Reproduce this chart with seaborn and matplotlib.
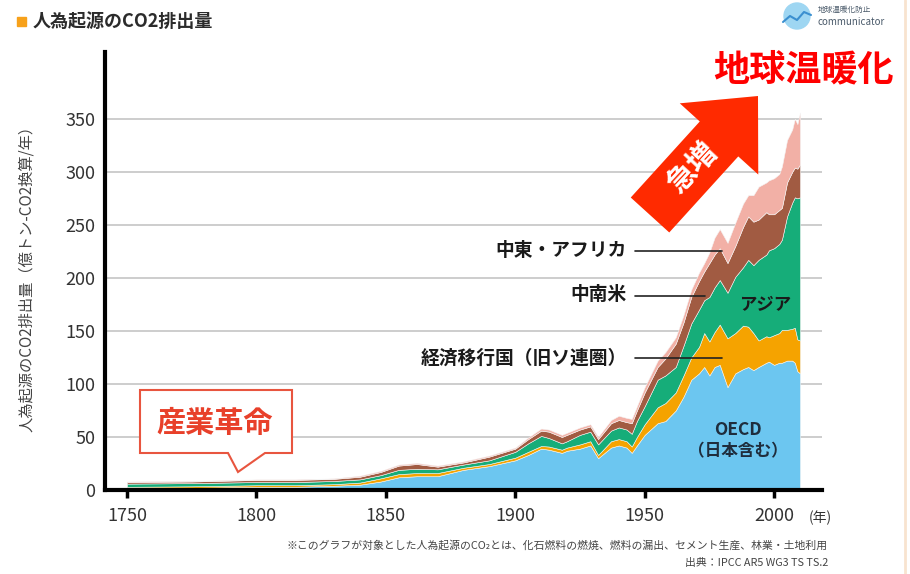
import seaborn as sns
import matplotlib.pyplot as plt
from matplotlib.patches import Polygon, Rectangle, Circle, FancyArrow

# data (億トン-CO2/年), one value per region and year
years = [1750, 1775, 1800, 1815, 1830, 1840, 1848, 1855, 1862, 1870, 1880, 1890,
         1900, 1905, 1910, 1913, 1918, 1920, 1925, 1929, 1932, 1937, 1940, 1943,
         1945, 1947, 1950, 1955, 1958, 1962, 1965, 1968, 1971, 1973, 1975, 1977,
         1979, 1982, 1985, 1988, 1990, 1992, 1994, 1997, 1998, 2000, 2002, 2003,
         2005, 2007, 2008, 2009, 2010]
oecd = [1.5, 2, 3, 3, 4, 5, 8, 12, 13, 13, 19, 22.5,
        28, 33, 39, 38, 35, 37, 39, 42, 30, 40, 42, 40,
        35, 42, 52, 63, 65, 75, 88, 104, 110, 116, 108, 116,
        118, 97, 110, 114, 116, 113, 116, 120, 121, 118, 120, 120,
        122, 122, 120, 112, 110]
transition = [1.5, 1.5, 1.5, 1.5, 1.5, 2, 3, 3, 3, 3, 2, 2,
              2.5, 3, 2.5, 3, 3, 3, 4, 4, 3, 6, 6, 6,
              6, 8, 10, 15, 17, 17, 20, 21, 25, 32, 32, 33,
              38, 46, 38, 41, 38, 35, 25, 25, 23, 28, 28, 31,
              29, 30, 33, 30, 31]
asia = [3, 3, 3, 3, 3, 3, 3, 4, 4, 3.5, 3, 3.5,
        5.5, 8, 9.5, 8, 6, 6, 9, 9, 10, 10, 11, 11,
        12, 15, 17, 26, 26, 24, 28, 32, 35, 31, 42, 42,
        42, 43, 53, 55, 63, 64, 76, 77, 82, 82, 84, 85,
        107, 119, 123, 133, 135]
latam = [1.5, 1.5, 2, 2, 2, 2.5, 3, 4, 4.5, 2.5, 2, 3.5,
         3, 4, 5, 6, 6, 6, 5, 5, 5, 7, 7, 7,
         10, 10, 13, 12, 16, 22, 22, 25, 27, 27, 32, 31,
         30, 28, 29, 38, 41, 41, 38, 40, 34, 32, 32, 30,
         32, 29, 28, 28, 31]
mea = [0.5, 0.5, 0.5, 0.5, 0.5, 1, 1, 1, 1, 1, 1, 1,
       1, 1.5, 2, 2, 2, 2, 2, 2, 2, 3, 4, 4,
       4, 4, 5, 6, 6, 6, 7, 7, 8, 8, 10, 16,
       18, 19, 22, 22, 20, 25, 31, 28, 32, 34, 34, 39,
       40, 40, 46, 42, 49]
colors = ['#6CC6F0', '#F5A300', '#16AD79', '#A15B42', '#F2B0A6']
yticks = [0, 50, 100, 150, 200, 250, 300, 350]
xticks = [1750, 1800, 1850, 1900, 1950, 2000]

sns.set_theme(style='white')
plt.rcParams['font.family'] = ['Noto Sans CJK JP', 'DejaVu Sans']

W, H = 910, 574
fig = plt.figure(figsize=(W / 100, H / 100), dpi=100)
ax = fig.add_axes([105 / W, (H - 490) / H, (822 - 105) / W, (490 - 52) / H])

ax.stackplot(years, oecd, transition, asia, latam, mea, colors=colors,
             edgecolor='#f4f4f4', linewidth=0.4, zorder=2)
ax.set_xlim(1741.5, 2018.5)
ax.set_ylim(0, 413)
ax.set_yticks(yticks)
ax.set_xticks(xticks)
ax.yaxis.grid(True, color='#c9c9c9', lw=1.3)
ax.set_axisbelow(True)
sns.despine(ax=ax)
for s in ['left', 'bottom']:
    ax.spines[s].set_color('black')
    ax.spines[s].set_linewidth(3)
ax.tick_params(axis='y', length=0, pad=7, labelsize=13, labelcolor='#333333')
ax.tick_params(axis='x', length=6, width=2.5, color='black', direction='out',
               pad=6, labelsize=13, labelcolor='#333333', bottom=True)

# overlay in pixel coordinates for the decorations
ov = fig.add_axes([0, 0, 1, 1])
ov.set_xlim(0, W)
ov.set_ylim(H, 0)
ov.axis('off')
ov.patch.set_visible(False)

ov.add_patch(Rectangle((17, 17), 9, 9, color='#F7A11A'))
ov.text(33, 21.5, '人為起源のCO2排出量', fontsize=13, fontweight='bold',
        color='#2b2b2b', va='center', ha='left')

ov.text(27, 275, '人為起源のCO2排出量（億トン-CO2換算/年）', rotation=90,
        fontsize=11, color='#444444', ha='center', va='center')
ov.text(820, 518, '(年)', fontsize=10, color='#333333', ha='center', va='center')

# logo
ov.add_patch(Circle((797, 16), 13, color='#9ED6F2'))
ov.plot([783, 790, 797, 804, 811], [22, 16, 20, 12, 15], color='#3a8fd0', lw=1.5)
ov.text(818, 10, '地球温暖化防止', fontsize=5.5, color='#4A5A6A', va='center')
ov.text(818, 22, 'communicator', fontsize=7, color='#4A5A6A', va='center')
ov.plot([905, 905], [0, H], color='#F8E3CF', lw=2)

ov.text(804, 70, '地球温暖化', fontsize=26, fontweight='bold', color='#FF0000',
        ha='center', va='center')

# rising arrow
ov.add_patch(FancyArrow(650, 215, 108, -119, width=52, head_width=106,
                        head_length=58, length_includes_head=True,
                        color='#FF2A00', lw=0))
ov.text(692, 168, '急増', rotation=47, fontsize=21, fontweight='bold',
        color='white', ha='center', va='center')

# callout for the industrial revolution
ov.add_patch(Polygon([(140, 390), (292, 390), (292, 453), (265, 453), (238, 472),
                      (228, 453), (140, 453)], closed=True, facecolor='white',
                     edgecolor='#E8553F', lw=1.5))
ov.text(215, 423, '産業革命', fontsize=21, fontweight='bold', color='#E8402A',
        ha='center', va='center')

# region labels
lab = dict(fontsize=13.5, fontweight='bold', color='#1a1a1a', ha='right', va='center')
ov.text(627, 250, '中東・アフリカ', **lab)
ov.text(627, 295, '中南米', **lab)
ov.text(627, 358, '経済移行国（旧ソ連圏）', **lab)
ov.plot([635, 722], [251, 251], color='#222222', lw=1.2)
ov.plot([635, 705], [296, 296], color='#222222', lw=1.2)
ov.plot([635, 722], [358, 358], color='#222222', lw=1.2)
ov.text(765, 305, 'アジア', fontsize=12.5, fontweight='bold', color='#1a1a1a',
        ha='center', va='center')
ov.text(738, 430, 'OECD', fontsize=12.5, fontweight='bold', color='#1F2D3D',
        ha='center', va='center')
ov.text(738, 451, '（日本含む）', fontsize=12, fontweight='bold', color='#1F2D3D',
        ha='center', va='center')

ov.text(828, 545, '※このグラフが対象とした人為起源のCO₂とは、化石燃料の燃焼、燃料の漏出、セメント生産、林業・土地利用',
        fontsize=7.8, color='#444444', ha='right', va='center')
ov.text(828, 563, '出典：IPCC AR5 WG3 TS TS.2', fontsize=7.8, color='#444444',
        ha='right', va='center')

fig.savefig('out.png', dpi=100)
